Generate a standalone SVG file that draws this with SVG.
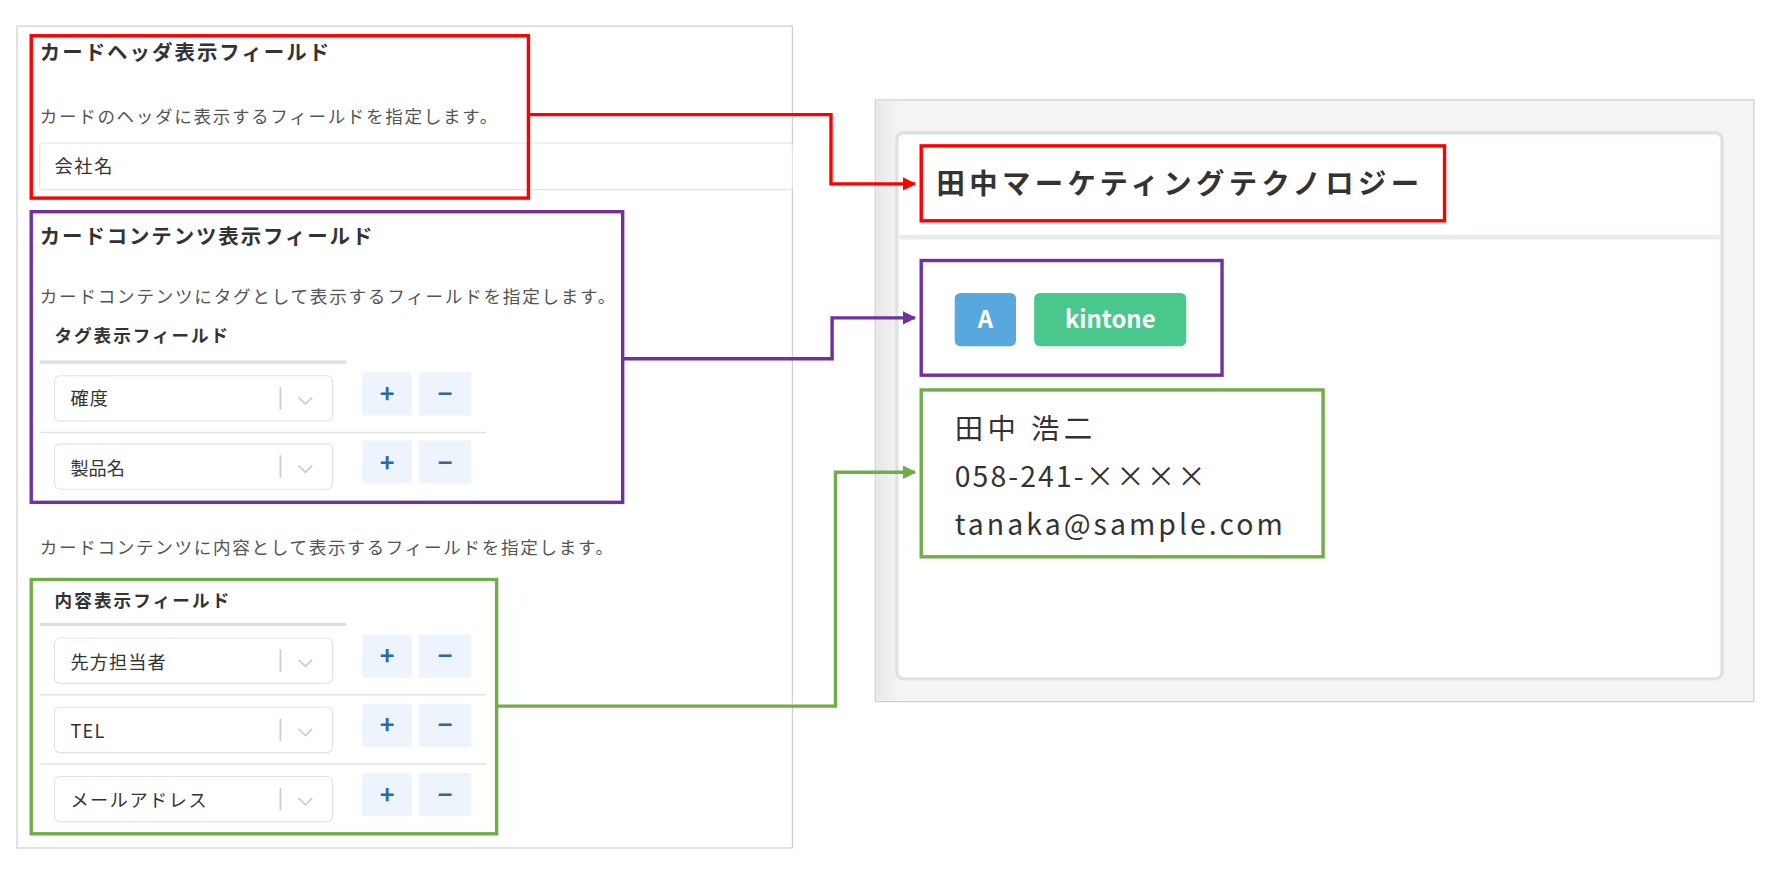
<svg xmlns="http://www.w3.org/2000/svg" width="1780" height="874" viewBox="0 0 1780 874">
<defs>
<style>
text{font-family:"Noto Sans CJK JP","Noto Sans",sans-serif;fill:#333}
.h{font-size:18px;font-weight:bold}
.d{font-size:15.5px;fill:#555}
.s{font-size:15.5px;font-weight:bold}
.v{font-size:16px}
.sel{fill:#fff;stroke:#e3e3e3;stroke-width:1}
.btn{fill:#edf4fb}
.bt{font-size:22px;font-weight:bold;fill:#2b6aa6;text-anchor:middle}
.sep{stroke:#ccc;stroke-width:1.5}
.chev{fill:none;stroke:#ccc;stroke-width:1.5}
.rl{stroke:#e3e3e3;stroke-width:1.5}
.ul{stroke:#ddd;stroke-width:3}
.c{fill:none;stroke-width:3}
.ct{font-size:25px}
</style>
<marker id="mr" viewBox="0 0 10 10" refX="9" refY="5" markerWidth="4" markerHeight="4" orient="auto"><path d="M0,0L10,5L0,10z" fill="#ff0000"/></marker>
<marker id="mp" viewBox="0 0 10 10" refX="9" refY="5" markerWidth="4" markerHeight="4" orient="auto"><path d="M0,0L10,5L0,10z" fill="#7030a0"/></marker>
<marker id="mg" viewBox="0 0 10 10" refX="9" refY="5" markerWidth="4" markerHeight="4" orient="auto"><path d="M0,0L10,5L0,10z" fill="#70ad47"/></marker>
<linearGradient id="lg" x1="0" x2="1"><stop offset="0" stop-color="#e8e8e8"/><stop offset="1" stop-color="#f5f5f5"/></linearGradient>
</defs>
<rect width="1780" height="874" fill="#fff"/>
<g transform="scale(1.1352)">
<g id="settings-panel">
<rect x="15" y="23" width="683" height="724" fill="#fff" stroke="#ccc" stroke-width="1"/>
<rect x="35" y="126" width="663" height="41" rx="3" class="sel"/>
<text x="48" y="152" class="v" textLength="51">会社名</text>
</g>
<g id="header-setting">
<rect x="27.5" y="31.5" width="438" height="143" fill="none" stroke="#ff0000" stroke-width="3"/>
<text x="35" y="53" class="h" textLength="255">カードヘッダ表示フィールド</text>
<text x="35" y="108" class="d" textLength="403">カードのヘッダに表示するフィールドを指定します。</text>
</g>
<g id="tag-setting">
<rect x="27.5" y="186.5" width="521" height="256" fill="none" stroke="#7030a0" stroke-width="3"/>
<text x="35" y="215" class="h" textLength="293">カードコンテンツ表示フィールド</text>
<text x="35" y="267" class="d" textLength="507">カードコンテンツにタグとして表示するフィールドを指定します。</text>
<text x="48" y="301" class="s" textLength="153">タグ表示フィールド</text>
<line x1="35" y1="319" x2="305" y2="319" class="ul"/>
<rect x="48" y="331" width="245" height="40" rx="5" class="sel"/>
<text x="62" y="357" class="v" textLength="33">確度</text>
<line x1="247" y1="341" x2="247" y2="361" class="sep"/>
<path d="M263,350l6,6l6,-6" class="chev"/>
<rect x="319" y="328" width="44" height="38" rx="2" class="btn"/><text x="341" y="355" class="bt">+</text>
<rect x="369" y="328" width="46" height="38" rx="2" class="btn"/><text x="392" y="355" class="bt">−</text>
<line x1="35" y1="381" x2="428" y2="381" class="rl"/>
<rect x="48" y="391" width="245" height="40" rx="5" class="sel"/>
<text x="62" y="418" class="v" textLength="48">製品名</text>
<line x1="247" y1="401" x2="247" y2="421" class="sep"/>
<path d="M263,410l6,6l6,-6" class="chev"/>
<rect x="319" y="388" width="44" height="38" rx="2" class="btn"/><text x="341" y="416" class="bt">+</text>
<rect x="369" y="388" width="46" height="38" rx="2" class="btn"/><text x="392" y="416" class="bt">−</text>
</g>
<text x="35" y="488" class="d" textLength="505">カードコンテンツに内容として表示するフィールドを指定します。</text>
<g id="content-setting">
<rect x="27.5" y="510.5" width="410" height="224" fill="none" stroke="#70ad47" stroke-width="3"/>
<text x="48" y="535" class="s" textLength="154">内容表示フィールド</text>
<line x1="35" y1="550" x2="305" y2="550" class="ul"/>
<rect x="48" y="562" width="245" height="40" rx="5" class="sel"/>
<text x="62" y="589" class="v" textLength="84">先方担当者</text>
<line x1="247" y1="572" x2="247" y2="592" class="sep"/>
<path d="M263,581l6,6l6,-6" class="chev"/>
<rect x="319" y="559" width="44" height="38" rx="2" class="btn"/><text x="341" y="586" class="bt">+</text>
<rect x="369" y="559" width="46" height="38" rx="2" class="btn"/><text x="392" y="586" class="bt">−</text>
<line x1="35" y1="612" x2="428" y2="612" class="rl"/>
<rect x="48" y="623" width="245" height="40" rx="5" class="sel"/>
<text x="62" y="650" class="v" textLength="30">TEL</text>
<line x1="247" y1="633" x2="247" y2="653" class="sep"/>
<path d="M263,642l6,6l6,-6" class="chev"/>
<rect x="319" y="620" width="44" height="38" rx="2" class="btn"/><text x="341" y="647" class="bt">+</text>
<rect x="369" y="620" width="46" height="38" rx="2" class="btn"/><text x="392" y="647" class="bt">−</text>
<line x1="35" y1="673" x2="428" y2="673" class="rl"/>
<rect x="48" y="684" width="245" height="40" rx="5" class="sel"/>
<text x="62" y="711" class="v" textLength="120">メールアドレス</text>
<line x1="247" y1="694" x2="247" y2="714" class="sep"/>
<path d="M263,703l6,6l6,-6" class="chev"/>
<rect x="319" y="681" width="44" height="38" rx="2" class="btn"/><text x="341" y="708" class="bt">+</text>
<rect x="369" y="681" width="46" height="38" rx="2" class="btn"/><text x="392" y="708" class="bt">−</text>
</g>
<g id="card-preview">
<rect x="771" y="88" width="774" height="530" fill="#f5f5f5" stroke="#ccc" stroke-width="1"/>
<rect x="772" y="89" width="22" height="528" fill="url(#lg)"/>
<rect x="790" y="117" width="727" height="481" rx="6" fill="#fff" stroke="#dde3e3" stroke-width="3"/>
<line x1="792" y1="209" x2="1515" y2="209" stroke="#e8ecec" stroke-width="4"/>
</g>
<g id="card-header">
<rect x="811.5" y="128.5" width="461" height="66" fill="none" stroke="#ff0000" stroke-width="3"/>
<text x="825" y="171" font-size="25" font-weight="bold" textLength="425">田中マーケティングテクノロジー</text>
</g>
<g id="card-tags">
<rect x="811.5" y="229.5" width="265" height="101" fill="none" stroke="#7030a0" stroke-width="3"/>
<rect x="841" y="258" width="54" height="47" rx="5" fill="#58a8de"/>
<text x="868" y="289" font-size="21" font-weight="bold" text-anchor="middle" style="fill:#fff">A</text>
<rect x="911" y="258" width="134" height="47" rx="5" fill="#4ac78c"/>
<text x="978" y="289" font-size="21" font-weight="bold" text-anchor="middle" style="fill:#fff">kintone</text>
</g>
<g id="card-content">
<rect x="811.5" y="343.5" width="354" height="147" fill="none" stroke="#70ad47" stroke-width="3"/>
<text x="841" y="387" class="ct" textLength="121">田中 浩二</text>
<text x="841" y="429" class="ct" textLength="221">058-241-××××</text>
<text x="841" y="471" class="ct" textLength="289">tanaka@sample.com</text>
</g>
<g id="connectors">
<path d="M466,101H732V162H806" class="c" stroke="#ff0000" marker-end="url(#mr)"/>
<path d="M549,316H733V280H806" class="c" stroke="#7030a0" marker-end="url(#mp)"/>
<path d="M438,622H736V416H806" class="c" stroke="#70ad47" marker-end="url(#mg)"/>
</g>
</g>
</svg>
